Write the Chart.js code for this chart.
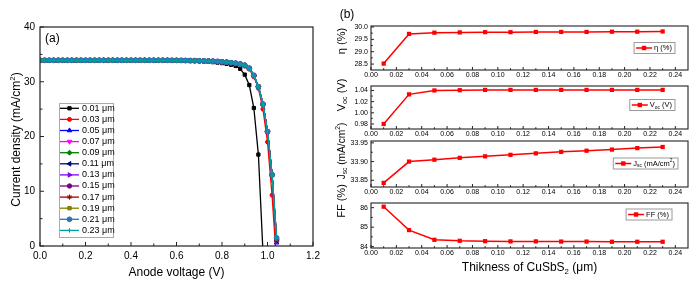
<!DOCTYPE html>
<html><head><meta charset="utf-8">
<script src="https://cdn.jsdelivr.net/npm/chart.js@4/dist/chart.umd.min.js"></script>
<style>
html,body{margin:0;padding:0;background:#fff;}
#wrap{position:relative;width:700px;height:286px;overflow:hidden;background:#fff;}
canvas{position:absolute;left:0;top:0;}
</style></head><body>
<div id="wrap">
<canvas id="ca" width="700" height="286"></canvas>
<canvas id="b1" width="700" height="286"></canvas>
<canvas id="b2" width="700" height="286"></canvas>
<canvas id="b3" width="700" height="286"></canvas>
<canvas id="b4" width="700" height="286"></canvas>
</div>
<script>
const FONT = '"Liberation Sans", Arial, sans-serif';

// ---------- Panel (a) data ----------
const voltage = [0.00,0.02,0.04,0.06,0.08,0.10,0.12,0.14,0.16,0.18,0.20,0.22,0.24,0.26,0.28,0.30,0.32,0.34,0.36,0.38,0.40,0.42,0.44,0.46,0.48,0.50,0.52,0.54,0.56,0.58,0.60,0.62,0.64,0.66,0.68,0.70,0.72,0.74,0.76,0.78,0.80,0.82,0.84,0.86,0.88,0.90,0.92,0.94,0.96,0.98,1.00,1.02,1.04];
const seriesLabels = ['0.01 μm','0.03 μm','0.05 μm','0.07 μm','0.09 μm','0.11 μm','0.13 μm','0.15 μm','0.17 μm','0.19 μm','0.21 μm','0.23 μm'];
const jv001 = [33.84,33.84,33.84,33.84,33.84,33.84,33.84,33.84,33.84,33.84,33.84,33.84,33.84,33.84,33.84,33.84,33.84,33.84,33.84,33.84,33.84,33.84,33.84,33.84,33.84,33.84,33.84,33.84,33.84,
  33.83,33.83,33.82,33.81,33.79,33.77,33.74,33.70,33.65,33.58,33.50,33.40,33.27,33.10,32.88,32.35,31.3,29.4,25.2,16.7,-1.0];
const jv003 = [33.90,33.90,33.90,33.90,33.90,33.90,33.90,33.90,33.90,33.90,33.90,33.90,33.90,33.90,33.90,33.90,33.90,33.90,33.90,33.90,33.90,33.90,33.90,33.90,33.90,33.90,33.90,33.90,33.90,
  33.89,33.89,33.88,33.87,33.86,33.84,33.82,33.79,33.75,33.71,33.66,33.60,33.52,33.42,33.29,33.11,32.85,32.3,30.9,28.8,25.0,19.0,9.3,-3.0];
// shared curve for 0.05 – 0.23 μm (they overlap), up to 1.02 V
const jvThick = [33.91,33.91,33.91,33.91,33.91,33.91,33.91,33.91,33.91,33.91,33.91,33.91,33.91,33.91,33.91,33.91,33.91,33.91,33.91,33.91,33.91,33.91,33.91,33.91,33.91,33.91,33.91,33.91,33.91,
  33.90,33.90,33.89,33.88,33.87,33.86,33.84,33.81,33.78,33.74,33.70,33.64,33.57,33.48,33.37,33.22,33.00,32.45,31.15,29.1,25.9,20.9,13.0];
// current at 1.04 V for 0.05 ... 0.23 μm
const jvEnd = [0.6,0.8,0.9,1.0,1.1,1.2,1.3,1.4,1.5,1.6];
const xTicksA = [0,0.2,0.4,0.6,0.8,1.0,1.2];
const yTicksA = [0,10,20,30,40];

// ---------- Panel (b) data ----------
const thickness = [0.01,0.03,0.05,0.07,0.09,0.11,0.13,0.15,0.17,0.19,0.21,0.23];
const eta = [28.52,29.72,29.77,29.78,29.79,29.79,29.80,29.80,29.80,29.81,29.81,29.82];
const voc = [0.980,1.033,1.040,1.0405,1.041,1.041,1.041,1.041,1.041,1.041,1.041,1.041];
const jsc = [33.843,33.900,33.905,33.910,33.914,33.918,33.922,33.926,33.929,33.932,33.936,33.939];
const ff = [86.05,84.85,84.35,84.30,84.28,84.27,84.27,84.26,84.26,84.25,84.25,84.25];
const xTicksB = [0.00,0.02,0.04,0.06,0.08,0.10,0.12,0.14,0.16,0.18,0.20,0.22,0.24];
const etaTicks = [28.5,29.0,29.5,30.0];
const vocTicks = [0.98,1.00,1.02,1.04];
const jscTicks = [33.85,33.90,33.95];
const ffTicks = [84,85,86];

// ---------- helpers ----------
function partFont(p, size){ const s = (p.sub||p.sup) ? size*0.65 : size; return s + 'px ' + FONT; }
function richWidth(ctx, parts, size){ let w=0; for(const p of parts){ ctx.font = partFont(p,size); w += ctx.measureText(p.t).width; } return w; }
function drawRich(ctx, parts, x, y, size, align, rot){
  ctx.save(); ctx.translate(x,y); if(rot) ctx.rotate(rot);
  const w = richWidth(ctx, parts, size);
  let cx = align==='center' ? -w/2 : (align==='right' ? -w : 0);
  ctx.textBaseline='middle'; ctx.textAlign='left'; ctx.fillStyle='#000';
  for(const p of parts){
    ctx.font = partFont(p,size);
    const dy = p.sub ? size*0.3 : (p.sup ? -size*0.35 : 0);
    ctx.fillText(p.t, cx, dy);
    cx += ctx.measureText(p.t).width;
  }
  ctx.restore();
  return w;
}
function mids(arr){ const m=[]; for(let i=0;i<arr.length-1;i++) m.push((arr[i]+arr[i+1])/2); return m; }

const frameTicks = {
  id:'frameTicks',
  afterDraw(chart, args, o){
    const {ctx, chartArea:a} = chart; const xs = chart.scales.x, ys = chart.scales.y;
    ctx.save();
    ctx.strokeStyle = '#222'; ctx.lineWidth = o.lw || 1.2;
    ctx.strokeRect(a.left, a.top, a.right-a.left, a.bottom-a.top);
    ctx.lineWidth = 1;
    const maj = o.major, mn = o.minor;
    ctx.beginPath();
    for(const v of o.xMajor){ const px = xs.getPixelForValue(v); ctx.moveTo(px, a.bottom); ctx.lineTo(px, a.bottom-maj); }
    for(const v of mids(o.xMajor)){ const px = xs.getPixelForValue(v); ctx.moveTo(px, a.bottom); ctx.lineTo(px, a.bottom-mn); }
    for(const v of o.yMajor){ const py = ys.getPixelForValue(v); ctx.moveTo(a.left, py); ctx.lineTo(a.left+maj, py); }
    for(const v of mids(o.yMajor)){ const py = ys.getPixelForValue(v); ctx.moveTo(a.left, py); ctx.lineTo(a.left+mn, py); }
    ctx.stroke();
    ctx.restore();
  }
};

// ---------- Panel (a) ----------
const styleA = [
  {c:'#000000', ps:'rect', r:2.3, rot:0},
  {c:'#FF0000', ps:'circle', r:2, rot:0},
  {c:'#0000FF', ps:'triangle', r:2.6, rot:0},
  {c:'#FF00FF', ps:'triangle', r:2.6, rot:180},
  {c:'#008000', ps:'rectRot', r:2.5, rot:0},
  {c:'#000080', ps:'triangle', r:2.6, rot:-90},
  {c:'#8000FF', ps:'triangle', r:2.6, rot:90},
  {c:'#800080', ps:'circle', r:2.2, rot:0},
  {c:'#A00000', ps:'star', r:2.6, rot:0},
  {c:'#808000', ps:'rect', r:2.4, rot:0},
  {c:'#3070B8', ps:'circle', r:2.4, rot:0},
  {c:'#00A0A0', ps:'cross', r:2.2, rot:0}
];
function seriesA(i){
  if(i===0) return jv001.map((j,k)=>({x:voltage[k], y:j}));
  if(i===1) return jv003.map((j,k)=>({x:voltage[k], y:j}));
  const pts = jvThick.map((j,k)=>({x:voltage[k], y:j}));
  pts.push({x:voltage[jvThick.length], y:jvEnd[i-2]});
  return pts;
}
const dsA = seriesLabels.map((lab,i)=>({
  label: lab, data: seriesA(i), borderColor: styleA[i].c, backgroundColor: styleA[i].c,
  pointBackgroundColor: styleA[i].c, pointBorderColor: styleA[i].c, pointStyle: styleA[i].ps,
  pointRadius: styleA[i].r, pointRotation: styleA[i].rot, pointBorderWidth: 1, borderWidth: 1.3,
  tension: 0, order: seriesLabels.length - 1 - i
}));

const decoA = {
  id:'decoA',
  afterDraw(chart){
    const {ctx, chartArea:a} = chart;
    // legend
    const bx = a.left + 19, by = a.top + 76, bw = 54, bh = 134;
    ctx.save();
    ctx.fillStyle = '#fff'; ctx.fillRect(bx, by, bw, bh);
    ctx.strokeStyle = '#aaa'; ctx.lineWidth = 1; ctx.strokeRect(bx+0.5, by+0.5, bw, bh);
    chart.data.datasets.forEach((ds,i)=>{
      const y = a.top + 81.3 + i*11.1;
      ctx.strokeStyle = ds.borderColor; ctx.lineWidth = 1.3;
      ctx.beginPath(); ctx.moveTo(a.left+20, y); ctx.lineTo(a.left+39, y); ctx.stroke();
      ctx.fillStyle = ds.pointBackgroundColor; ctx.strokeStyle = ds.pointBorderColor; ctx.lineWidth = 1;
      if (Chart.helpers && Chart.helpers.drawPoint) {
        Chart.helpers.drawPoint(ctx, {pointStyle: ds.pointStyle, rotation: ds.pointRotation, radius: ds.pointRadius, borderWidth: 1}, a.left+29.5, y);
      } else { ctx.fillRect(a.left+27.5, y-2, 4, 4); }
      ctx.fillStyle = '#000'; ctx.font = '9px ' + FONT; ctx.textBaseline = 'middle'; ctx.textAlign = 'left';
      ctx.fillText(ds.label, a.left+42, y);
    });
    ctx.restore();
    drawRich(ctx, [{t:'(a)'}], a.left+5, a.top+12, 12, 'left');
    drawRich(ctx, [{t:'Anode voltage (V)'}], (a.left+a.right)/2, a.bottom+27, 12, 'center');
    drawRich(ctx, [{t:'Current density (mA/cm'},{t:'2',sup:true},{t:')'}], 17, (a.top+a.bottom)/2 + 3, 12, 'center', -Math.PI/2);
  }
};

new Chart(document.getElementById('ca'), {
  type:'line',
  data:{datasets: dsA},
  options:{
    responsive:false, animation:false, events:[],
    layout:{padding:{left:0, right:387, top:27, bottom:0}},
    plugins:{legend:{display:false}, tooltip:{enabled:false}, frameTicks:{xMajor:xTicksA, yMajor:yTicksA, major:4, minor:2.5, lw:1.2}},
    scales:{
      x:{type:'linear', min:0, max:1.2, grid:{display:false, drawTicks:false}, border:{display:false},
         afterBuildTicks: s => { s.ticks = xTicksA.map(v=>({value:v})); },
         afterFit: s => { s.height = 40; },
         ticks:{padding:4, color:'#000', font:{family:FONT, size:10}, maxRotation:0, callback: v => v.toFixed(1)}},
      y:{type:'linear', min:0, max:40, grid:{display:false, drawTicks:false}, border:{display:false},
         afterBuildTicks: s => { s.ticks = yTicksA.map(v=>({value:v})); },
         afterFit: s => { s.width = 40; },
         ticks:{padding:5, color:'#000', font:{family:FONT, size:10}, callback: v => String(v)}}
    }
  },
  plugins:[frameTicks, decoA]
});

// ---------- Panel (b) ----------
const subs = [
  {id:'b1', vals:eta, ticks:etaTicks, min:28.26, max:30.04, dec:1, top:26, bottom:70,
   title:[{t:'η (%)'}], ts:11, tdy:15, leg:[{t:'η (%)'}], lr:13, ly:22},
  {id:'b2', vals:voc, ticks:vocTicks, min:0.971, max:1.048, dec:2, top:86, bottom:129,
   title:[{t:'V'},{t:'oc',sub:true},{t:' (V)'}], ts:11, tdy:9, leg:[{t:'V'},{t:'oc',sub:true},{t:' (V)'}], lr:13, ly:19},
  {id:'b3', vals:jsc, ticks:jscTicks, min:33.832, max:33.955, dec:2, top:141, bottom:187,
   title:[{t:'J'},{t:'sc',sub:true},{t:' (mA/cm'},{t:'2',sup:true},{t:')'}], ts:10.2, tdy:10, leg:[{t:'J'},{t:'sc',sub:true},{t:' (mA/cm'},{t:'2',sup:true},{t:')'}], lr:10, ly:22.5},
  {id:'b4', vals:ff, ticks:ffTicks, min:83.93, max:86.24, dec:0, top:203, bottom:248,
   title:[{t:'FF (%)'}], ts:11, tdy:-2, leg:[{t:'FF (%)'}], lr:16, ly:11.5, xtitle:true}
];

subs.forEach((sp, idx)=>{
  const deco = {
    id:'decoB'+idx,
    afterDraw(chart){
      const {ctx, chartArea:a} = chart;
      // legend box
      const size = 7.5;
      const tw = richWidth(ctx, sp.leg, size);
      const bw = 2 + 16 + 2 + tw + 3, bh = 11;
      const bx = a.right - sp.lr - bw, cy = a.top + sp.ly, by = cy - bh/2;
      ctx.save();
      ctx.fillStyle = '#fff'; ctx.fillRect(bx, by, bw, bh);
      ctx.strokeStyle = '#999'; ctx.lineWidth = 1; ctx.strokeRect(bx, by, bw, bh);
      ctx.strokeStyle = '#FF0000'; ctx.lineWidth = 1.5;
      ctx.beginPath(); ctx.moveTo(bx+2, cy); ctx.lineTo(bx+18, cy); ctx.stroke();
      ctx.fillStyle = '#FF0000'; ctx.fillRect(bx+10-2.2, cy-2.2, 4.4, 4.4);
      ctx.restore();
      drawRich(ctx, sp.leg, bx+20, cy, size, 'left');
      // y title
      drawRich(ctx, sp.title, a.left - 29, a.top + sp.tdy, sp.ts, 'center', -Math.PI/2);
      if(idx===0) drawRich(ctx, [{t:'(b)'}], a.left - 24, a.top - 11, 12, 'center');
      if(sp.xtitle) drawRich(ctx, [{t:'Thikness of CuSbS'},{t:'2',sub:true},{t:' (μm)'}], (a.left+a.right)/2, a.bottom + 20, 12, 'center');
    }
  };
  new Chart(document.getElementById(sp.id), {
    type:'line',
    data:{datasets:[{
      data: thickness.map((t,i)=>({x:t, y:sp.vals[i]})),
      borderColor:'#FF0000', backgroundColor:'#FF0000', pointBackgroundColor:'#FF0000', pointBorderColor:'#FF0000',
      pointStyle:'rect', pointRadius:3, pointBorderWidth:0, borderWidth:1.5, tension:0
    }]},
    options:{
      responsive:false, animation:false, events:[],
      layout:{padding:{left:325, right:12, top:sp.top, bottom:286 - sp.bottom - 12}},
      plugins:{legend:{display:false}, tooltip:{enabled:false}, frameTicks:{xMajor:xTicksB, yMajor:sp.ticks, major:3, minor:1.8, lw:1.1}},
      scales:{
        x:{type:'linear', min:0, max:0.25, grid:{display:false, drawTicks:false}, border:{display:false},
           afterBuildTicks: s => { s.ticks = xTicksB.map(v=>({value:v})); },
           afterFit: s => { s.height = 12; },
           ticks:{padding:1, color:'#000', font:{family:FONT, size:7}, maxRotation:0, autoSkip:false, callback: v => v.toFixed(2)}},
        y:{type:'linear', min:sp.min, max:sp.max, grid:{display:false, drawTicks:false}, border:{display:false},
           afterBuildTicks: s => { s.ticks = sp.ticks.map(v=>({value:v})); },
           afterFit: s => { s.width = 46; },
           ticks:{padding:3, color:'#000', font:{family:FONT, size:7}, callback: v => v.toFixed(sp.dec)}}
      }
    },
    plugins:[frameTicks, deco]
  });
});
</script>
</body></html>
